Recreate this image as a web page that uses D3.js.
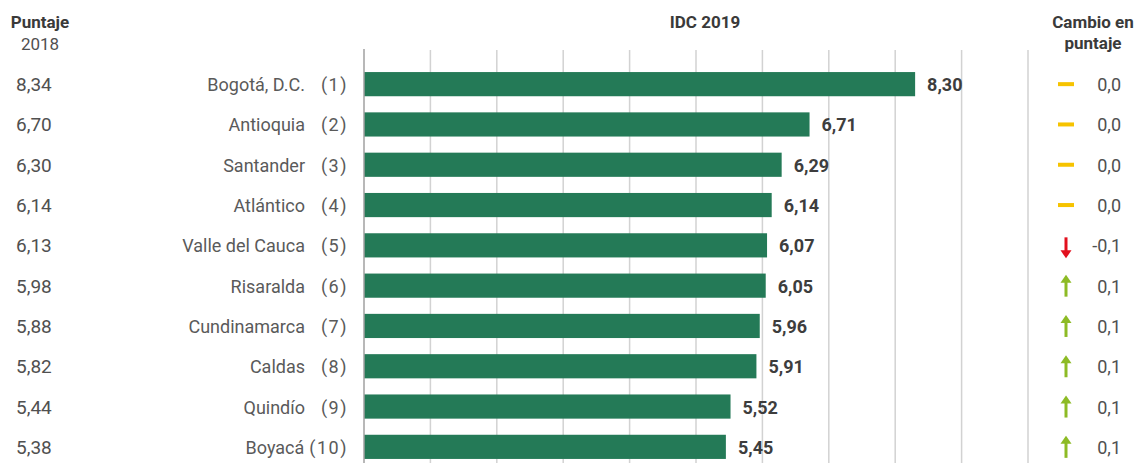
<!DOCTYPE html>
<html>
<head>
<meta charset="utf-8">
<script src="https://cdn.jsdelivr.net/npm/d3@7"></script>
<style>
  html, body { margin: 0; padding: 0; background: #ffffff; }
  svg { display: block; }
  text { font-family: Roboto, "Noto Sans", sans-serif; }
</style>
</head>
<body>
<script>
const regions = ["Bogotá, D.C.", "Antioquia", "Santander", "Atlántico", "Valle del Cauca",
                 "Risaralda", "Cundinamarca", "Caldas", "Quindío", "Boyacá"];
const ranks = [1, 2, 3, 4, 5, 6, 7, 8, 9, 10];
const idc2019 = [8.30, 6.71, 6.29, 6.14, 6.07, 6.05, 5.96, 5.91, 5.52, 5.45];
const score2018 = [8.34, 6.70, 6.30, 6.14, 6.13, 5.98, 5.88, 5.82, 5.44, 5.38];
const change = [0.0, 0.0, 0.0, 0.0, -0.1, 0.1, 0.1, 0.1, 0.1, 0.1];
const gridTicks = [0, 1, 2, 3, 4, 5, 6, 7, 8, 9, 10];
const headers = { left: ["Puntaje", "2018"], center: "IDC 2019", right: ["Cambio en", "puntaje"] };

const W = 1139, H = 463;
const locale = d3.formatLocale({ decimal: ",", thousands: ".", grouping: [3], currency: ["", ""], minus: "-" });
const f2 = locale.format(".2f");
const f1 = locale.format(".1f");

const svg = d3.select("body").append("svg").attr("width", W).attr("height", H);

const x = d3.scaleLinear().domain([0, 10]).range([364, 1028]);
const y = d3.scaleBand().domain(d3.range(regions.length)).range([64, 467]).paddingInner(0.4).paddingOuter(0.2);
const cy = i => y(i) + y.bandwidth() / 2;
const dy = 7;

// gridlines
svg.append("g").selectAll("line").data(gridTicks.filter(d => d > 0)).join("line")
  .attr("x1", d => x(d)).attr("x2", d => x(d))
  .attr("y1", 50).attr("y2", H)
  .attr("stroke", "#d2d2d2").attr("stroke-width", 1.5);

// bars
svg.append("g").selectAll("rect").data(idc2019).join("rect")
  .attr("x", x(0)).attr("y", (d, i) => y(i))
  .attr("width", d => x(d) - x(0)).attr("height", y.bandwidth())
  .attr("fill", "#247a57");

// axis line
svg.append("line").attr("x1", x(0)).attr("x2", x(0)).attr("y1", 49).attr("y2", H)
  .attr("stroke", "#a0a0a0").attr("stroke-width", 1.5);

// value labels
svg.append("g").selectAll("text").data(idc2019).join("text")
  .attr("x", d => x(d) + 12).attr("y", (d, i) => cy(i) + dy)
  .attr("font-size", 18).attr("font-weight", "bold").attr("fill", "#3d3d3d")
  .text(d => f2(d));

// left 2018 values
svg.append("g").selectAll("text").data(score2018).join("text")
  .attr("x", 16).attr("y", (d, i) => cy(i) + dy)
  .attr("font-size", 19).attr("fill", "#505050")
  .text(d => f2(d));

// ranks
const rankG = svg.append("g");
const rankTexts = rankG.selectAll("text").data(ranks).join("text")
  .attr("x", 348).attr("y", (d, i) => cy(i) + dy)
  .attr("text-anchor", "end").attr("font-size", 18).attr("fill", "#5a5a5a")
  .attr("letter-spacing", 1.5)
  .text(d => "(" + d + ")");

// region names
svg.append("g").selectAll("text").data(regions).join("text")
  .attr("x", (d, i) => {
    const node = rankTexts.nodes()[i];
    const left = 348 - node.getComputedTextLength();
    return Math.min(305, left - 5);
  })
  .attr("y", (d, i) => cy(i) + dy)
  .attr("text-anchor", "end").attr("font-size", 18).attr("fill", "#5a5a5a")
  .text(d => d);

// headers
svg.append("text").attr("x", 40).attr("y", 28).attr("text-anchor", "middle")
  .attr("font-size", 17).attr("font-weight", "bold").attr("fill", "#3a3a3a").text(headers.left[0]);
svg.append("text").attr("x", 40).attr("y", 50).attr("text-anchor", "middle")
  .attr("font-size", 17).attr("fill", "#505050").text(headers.left[1]);
svg.append("text").attr("x", 705).attr("y", 28).attr("text-anchor", "middle")
  .attr("font-size", 17).attr("font-weight", "bold").attr("fill", "#3a3a3a").text(headers.center);
svg.append("text").attr("x", 1093).attr("y", 28).attr("text-anchor", "middle")
  .attr("font-size", 17).attr("font-weight", "bold").attr("fill", "#3a3a3a").text(headers.right[0]);
svg.append("text").attr("x", 1093).attr("y", 49).attr("text-anchor", "middle")
  .attr("font-size", 17).attr("font-weight", "bold").attr("fill", "#3a3a3a").text(headers.right[1]);

// change symbols
const symX = 1066;
const symG = svg.append("g");
change.forEach((c, i) => {
  const yc = cy(i);
  if (c === 0) {
    symG.append("rect").attr("x", symX - 8).attr("y", yc - 2).attr("width", 16).attr("height", 4)
      .attr("fill", "#f6c300");
  } else if (c > 0) {
    const col = "#8dbb25";
    symG.append("rect").attr("x", symX - 1.5).attr("y", yc - 4).attr("width", 3).attr("height", 15).attr("fill", col);
    symG.append("path").attr("d", `M${symX - 5.5},${yc - 3} L${symX},${yc - 11} L${symX + 5.5},${yc - 3} Z`).attr("fill", col);
  } else {
    const col = "#e2101e";
    symG.append("rect").attr("x", symX - 1.5).attr("y", yc - 8).attr("width", 3).attr("height", 15).attr("fill", col);
    symG.append("path").attr("d", `M${symX - 5.5},${yc + 5} L${symX},${yc + 13} L${symX + 5.5},${yc + 5} Z`).attr("fill", col);
  }
});

// change values
svg.append("g").selectAll("text").data(change).join("text")
  .attr("x", 1121).attr("y", (d, i) => cy(i) + dy)
  .attr("text-anchor", "end").attr("font-size", 18).attr("fill", "#505050")
  .text(d => f1(d));
</script>
</body>
</html>
